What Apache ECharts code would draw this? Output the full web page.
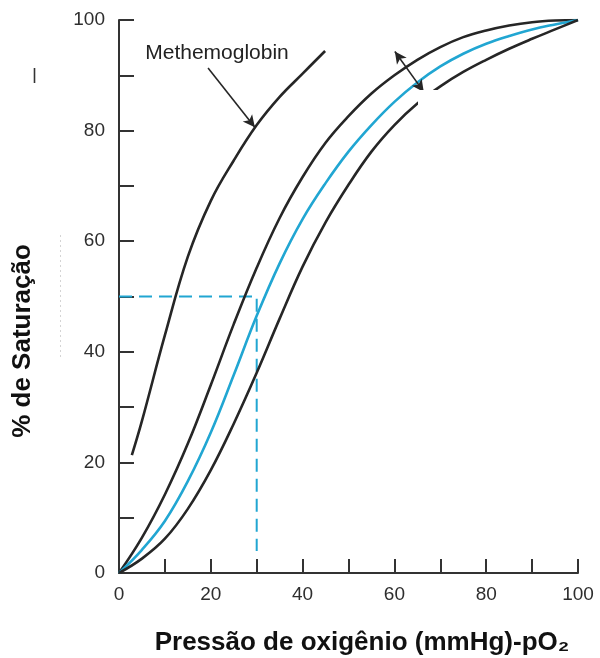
<!DOCTYPE html>
<html>
<head>
<meta charset="utf-8">
<script src="https://cdn.jsdelivr.net/npm/echarts@6/dist/echarts.min.js"></script>
<style>
  html, body { margin: 0; padding: 0; background: #fff; }
  #chart { width: 600px; height: 658px; }
</style>
</head>
<body>
<div id="chart"></div>
<script>
// Oxygen partial pressure (mmHg) shared by the three dissociation curves
const pO2 = [0, 5, 10, 15, 20, 25, 30, 35, 40, 45, 50, 55, 60, 65, 70, 75, 80, 85, 90, 95, 100];
// Left bound of the normal band (% saturation)
const upperBound = [0, 6.4, 14.2, 23.4, 34, 45, 55.2, 64.2, 71.6, 77.8, 82.6, 86.7, 90, 92.8, 95.1, 96.9, 98.1, 99, 99.6, 99.9, 100];
// Normal haemoglobin curve
const normalCurve = [0, 4.2, 9.4, 16.6, 25.4, 35.8, 46.5, 56, 64, 70.5, 76.2, 81, 85.2, 88.7, 91.6, 93.9, 95.7, 97.1, 98.3, 99.2, 100];
// Right bound of the normal band
const lowerBound = [0, 2.6, 6.2, 11.6, 18.6, 27, 36.2, 46, 55.4, 63.4, 70.2, 76.2, 81, 84.9, 88, 90.6, 92.8, 94.8, 96.6, 98.3, 100];

// Methemoglobin curve
const metPO2 = [2.8, 5, 10, 15, 20, 25, 30, 35, 40, 44.9];
const metSat = [21.3, 27.5, 43, 57.2, 67.3, 74.6, 81, 86.1, 90.3, 94.4];

// P50 guide: 50 % saturation at 30 mmHg
const p50Guide = [[0, 50], [30, 50], [30, 4]];

// Pointer from the "Methemoglobin" label to its curve, and the band arrow
const metPointer = [[19.4, 91.3], [29.6, 80.6]];
const bandArrow = [[60.1, 94.3], [66.4, 87.0]];

const xTicks = [0, 20, 40, 60, 80, 100];
const yTicks = [0, 20, 40, 60, 80, 100];

const zip = (xs, ys) => xs.map((x, i) => [x, ys[i]]);

const INK = '#262626';
const CYAN = '#21a6d2';
const FONT = '"Liberation Sans", Arial, Helvetica, sans-serif';

const chart = echarts.init(document.getElementById('chart'), null, { renderer: 'canvas' });

const axisCommon = {
  type: 'value',
  min: 0,
  max: 100,
  interval: 10,
  splitLine: { show: false },
  axisLine: { show: true, lineStyle: { color: '#333', width: 2 } },
  axisTick: { show: true, inside: true, lineStyle: { color: '#333', width: 2 } },
  axisLabel: {
    color: '#2e2e2e',
    fontSize: 19,
    fontFamily: FONT,
    formatter: v => (xTicks.indexOf(v) >= 0 ? String(v) : '')
  }
};

const curve = (data, color, extra) => Object.assign({
  type: 'line',
  data: data,
  showSymbol: false,
  symbol: 'none',
  smooth: 0.4,
  lineStyle: { color: color, width: 2.6 },
  silent: true,
  z: 3
}, extra || {});

const arrowMark = (seg, symbols) => ({
  silent: true,
  symbol: symbols,
  symbolSize: [9, 12],
  label: { show: false },
  lineStyle: { type: 'solid', color: INK, width: 1.6 },
  itemStyle: { color: INK },
  emphasis: { disabled: true },
  animation: false,
  data: [[{ coord: seg[0] }, { coord: seg[1] }]]
});

chart.setOption({
  animation: false,
  backgroundColor: '#fff',
  grid: { left: 119, right: 22, top: 20, bottom: 85, containLabel: false },
  xAxis: Object.assign({}, axisCommon, {
    axisTick: Object.assign({}, axisCommon.axisTick, { length: 14 }),
    axisLabel: Object.assign({}, axisCommon.axisLabel, { margin: 12 })
  }),
  yAxis: Object.assign({}, axisCommon, {
    axisTick: Object.assign({}, axisCommon.axisTick, { length: 15 }),
    axisLabel: Object.assign({}, axisCommon.axisLabel, {
      margin: 14,
      formatter: v => (yTicks.indexOf(v) >= 0 ? String(v) : '')
    })
  }),
  series: [
    curve(p50Guide, CYAN, {
      smooth: false,
      lineStyle: { color: CYAN, width: 2, type: [13, 7] },
      z: 2
    }),
    curve(zip(metPO2, metSat), INK, { markLine: arrowMark(metPointer, ['none', 'arrow']) }),
    curve(zip(pO2, upperBound), INK, { markLine: arrowMark(bandArrow, ['arrow', 'arrow']) }),
    curve(zip(pO2, normalCurve), CYAN),
    curve(zip(pO2, lowerBound), INK)
  ],
  graphic: [
    // blank patch over the right-hand curve near the band arrow
    {
      type: 'rect',
      z: 100,
      shape: { x: 418, y: 90, width: 70, height: 40 },
      style: { fill: '#fff' },
      silent: true
    },
    {
      type: 'text',
      z: 101,
      x: 217,
      y: 53,
      style: {
        text: 'Methemoglobin',
        fill: '#222',
        font: '21px ' + FONT,
        textAlign: 'center',
        textVerticalAlign: 'middle'
      }
    },
    {
      type: 'text',
      z: 101,
      x: 362,
      y: 643,
      style: {
        text: 'Pressão de oxigênio (mmHg)-pO₂',
        fill: '#111',
        font: 'bold 26px ' + FONT,
        textAlign: 'center',
        textVerticalAlign: 'middle'
      }
    },
    {
      type: 'text',
      z: 101,
      x: 23,
      y: 341,
      rotation: Math.PI / 2,
      style: {
        text: '% de Saturação',
        fill: '#111',
        font: 'bold 26px ' + FONT,
        textAlign: 'center',
        textVerticalAlign: 'middle'
      }
    },
    // small stray stroke and faint dotted rule at the left margin
    {
      type: 'line',
      z: 101,
      shape: { x1: 34.5, y1: 68, x2: 34.5, y2: 83 },
      style: { stroke: '#333', lineWidth: 1.6 }
    },
    {
      type: 'line',
      z: 101,
      shape: { x1: 60.5, y1: 235, x2: 60.5, y2: 357 },
      style: { stroke: '#d4d4d4', lineWidth: 1, lineDash: [2, 3] }
    }
  ]
});
</script>
</body>
</html>
